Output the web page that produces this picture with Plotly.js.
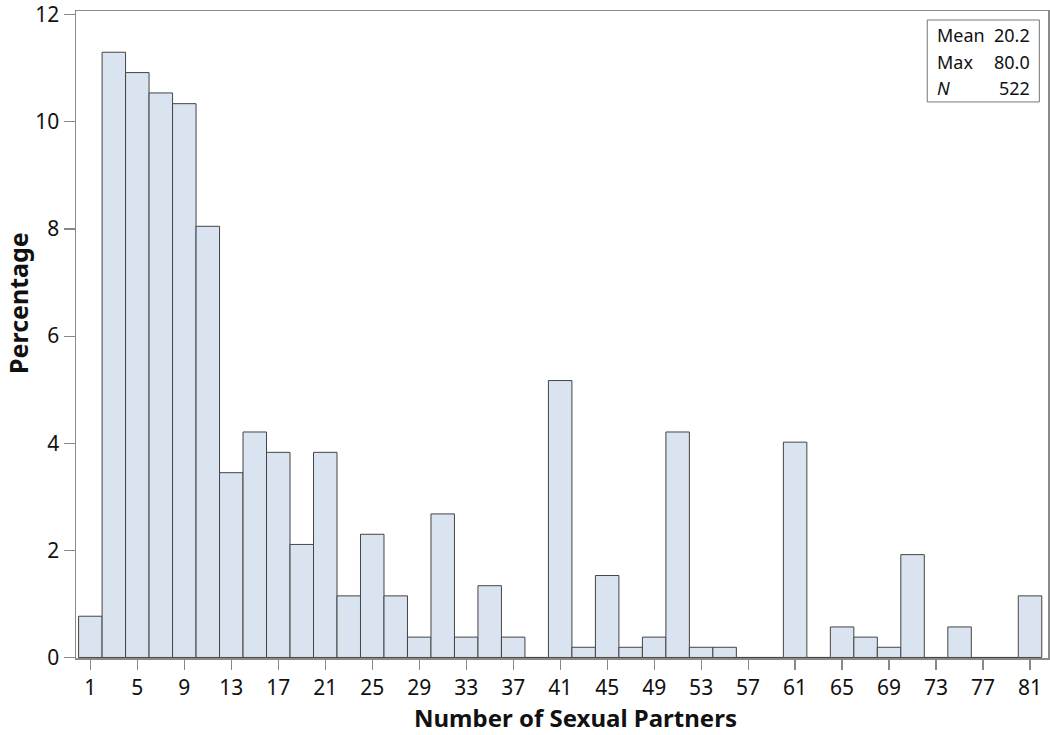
<!DOCTYPE html>
<html>
<head>
<meta charset="utf-8">
<script src="https://cdn.plot.ly/plotly-3.0.1.min.js"></script>
<style>
  body { margin: 0; background: #fff; }
  #plot { width: 1050px; height: 735px; }
</style>
</head>
<body>
<div id="plot"></div>
<script>
// Histogram bins (midpoints, width 2) and percentage of respondents
const binMids = [1, 3, 5, 7, 9, 11, 13, 15, 17, 19, 21, 23, 25, 27, 29, 31, 33, 35, 37, 39,
                 41, 43, 45, 47, 49, 51, 53, 55, 57, 59, 61, 63, 65, 67, 69, 71, 73, 75, 77, 79, 81];
const percents = [0.77, 11.30, 10.92, 10.54, 10.34, 8.05, 3.45, 4.21, 3.83, 2.11,
                  3.83, 1.15, 2.30, 1.15, 0.38, 2.68, 0.38, 1.34, 0.38, 0,
                  5.17, 0.19, 1.53, 0.19, 0.38, 4.21, 0.19, 0.19, 0, 0,
                  4.02, 0, 0.57, 0.38, 0.19, 1.92, 0, 0.57, 0, 0, 1.15];
const xTicks = [1, 5, 9, 13, 17, 21, 25, 29, 33, 37, 41, 45, 49, 53, 57, 61, 65, 69, 73, 77, 81];
const yTicks = [0, 2, 4, 6, 8, 10, 12];

// Summary statistics box
const statLabels = ['Mean', 'Max', '<i>N</i>'];
const statValues = ['20.2', '80.0', '522'];

const font = 'Noto Sans, Open Sans, sans-serif';

const trace = {
  x: binMids,
  y: percents,
  type: 'bar',
  width: 2,
  marker: {
    color: 'rgb(218,227,240)',
    line: { color: '#444', width: 1 }
  },
  hoverinfo: 'x+y'
};

const rowY = [0.9629, 0.9216, 0.8805];
const annotations = [];
statLabels.forEach((lab, i) => {
  annotations.push({
    xref: 'paper', yref: 'paper', x: 0.8837, y: rowY[i],
    xanchor: 'left', yanchor: 'middle', showarrow: false,
    text: lab, font: { family: font, size: 18, color: '#111' }
  });
  annotations.push({
    xref: 'paper', yref: 'paper', x: 0.9835, y: rowY[i],
    xanchor: 'right', yanchor: 'middle', showarrow: false,
    text: statValues[i], font: { family: font, size: 18, color: '#111' }
  });
});

// axis titles (placed as annotations, slightly off-centre like the original)
annotations.push({
  xref: 'paper', yref: 'paper', x: 0.5144, y: -0.0912,
  xanchor: 'center', yanchor: 'middle', showarrow: false,
  text: '<b>Number of Sexual Partners</b>',
  font: { family: font, size: 24, color: '#111' }
});
annotations.push({
  xref: 'paper', yref: 'paper', x: -0.0597, y: 0.5487,
  xanchor: 'center', yanchor: 'middle', showarrow: false, textangle: -90,
  text: '<b>Percentage</b>',
  font: { family: font, size: 25, color: '#111' }
});

const layout = {
  width: 1050,
  height: 735,
  margin: { l: 76, r: 2, t: 11, b: 77 },
  paper_bgcolor: '#fff',
  plot_bgcolor: '#fff',
  showlegend: false,
  bargap: 0,
  font: { family: font, size: 21, color: '#111' },
  xaxis: {
    range: [-0.22, 82.53],
    tickvals: xTicks,
    ticktext: xTicks.map(String),
    ticks: 'outside',
    ticklen: 10,
    tickwidth: 1.2,
    tickcolor: '#888',
    showline: true,
    linecolor: '#8a8a8a',
    linewidth: 1.5,
    mirror: true,
    showgrid: false,
    zeroline: false,
    tickfont: { family: font, size: 21, color: '#111' }
  },
  yaxis: {
    range: [-0.01, 12.07],
    tickvals: yTicks,
    ticktext: yTicks.map(String),
    ticks: 'outside',
    ticklen: 11,
    tickwidth: 1.2,
    tickcolor: '#888',
    showline: true,
    linecolor: '#8a8a8a',
    linewidth: 1.5,
    mirror: true,
    showgrid: false,
    zeroline: false,
    tickfont: { family: font, size: 21, color: '#111' }
  },
  shapes: [{
    type: 'rect', xref: 'paper', yref: 'paper',
    x0: 0.8758, x1: 0.9911, y0: 0.8594, y1: 0.9861,
    line: { color: '#777', width: 1 },
    fillcolor: 'rgba(255,255,255,0)'
  }],
  annotations: annotations
};

Plotly.newPlot('plot', [trace], layout, { displayModeBar: false, staticPlot: true });
</script>
</body>
</html>
